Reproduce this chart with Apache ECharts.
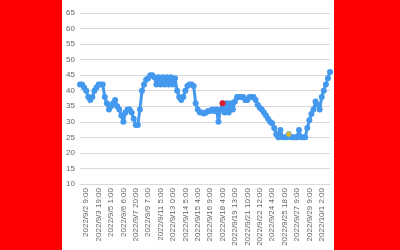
<!DOCTYPE html>
<html>
<head>
<meta charset="utf-8">
<script src="https://cdn.jsdelivr.net/npm/echarts@6/dist/echarts.min.js"></script>
<style>
html,body{margin:0;padding:0;width:400px;height:250px;background:#ff0000;overflow:hidden;}
#panel{position:absolute;left:62px;top:0;width:272px;height:250px;background:#ffffff;}
#chart{position:absolute;left:0;top:0;width:400px;height:250px;}
</style>
</head>
<body>
<div id="panel"></div>
<div id="chart"></div>
<script>
// x-axis tick labels (one every 6 points, starting at point 3)
const tickLabels = [
  '2022/9/2 9:00','2022/9/3 19:00','2022/9/5 1:00','2022/9/6 6:00','2022/9/7 20:00',
  '2022/9/9 7:00','2022/9/11 5:00','2022/9/13 0:00','2022/9/14 5:00','2022/9/15 4:00',
  '2022/9/16 9:00','2022/9/18 4:00','2022/9/19 13:00','2022/9/21 10:00','2022/9/22 12:00',
  '2022/9/24 4:00','2022/9/25 18:00','2022/9/27 9:00','2022/9/29 9:00','2022/10/1 2:00'
];
const labelStart = 3;
const labelStep = 6;

// series values
const levels = [
  42,42,41,40,38,37,38,40,41,42,
  42,42,38,36,34,35,36,37,35,34,
  32,30,33,34,34,33,31,29,29,34,
  40,42,43.5,44,45,45,44.3,42,44.3,42,
  44.3,42,44.3,42,44.3,42,44,40,38,37,
  38,40,41.5,42,42,41.5,36,34,33,33,
  32.7,33,33.5,33.5,34,33.5,34,30,34,36,
  33,36,33,36,34,36.5,38,38,38,38,
  37,37,38,38,38,37,35.5,34.5,34,33,
  32,31,30,29.5,28,26,25,27.4,25,25,
  25,26,25,25,25,25,27.4,25,25,25,
  28,30.5,32.5,34,36.5,35.5,34,38,40,42,
  44,46
];

// highlighted points: [point index, value]
const redPoint = [69, 36];
const yellowPoint = [101, 26];

// y-axis range
const yMin = 10, yMax = 65, yStep = 5;

const categories = levels.map((v, i) => {
  const k = (i - labelStart) / labelStep;
  return (Number.isInteger(k) && k >= 0 && k < tickLabels.length) ? tickLabels[k] : '';
});

const chart = echarts.init(document.getElementById('chart'), null, {renderer: 'canvas'});
chart.setOption({
  animation: false,
  backgroundColor: 'transparent',
  grid: {left: 80, right: 70, top: 13, bottom: 66, containLabel: false},
  xAxis: {
    type: 'category',
    data: categories,
    boundaryGap: false,
    axisLine: {show: true, lineStyle: {color: '#d9d9d9', width: 1}},
    axisTick: {show: false},
    axisLabel: {
      interval: 0,
      rotate: 90,
      margin: 4,
      fontSize: 8,
      color: '#666666',
      fontFamily: 'Liberation Sans, Arial, sans-serif'
    },
    splitLine: {show: false}
  },
  yAxis: {
    type: 'value',
    min: yMin, max: yMax, interval: yStep,
    axisLine: {show: false},
    axisTick: {show: false},
    axisLabel: {
      margin: 5,
      fontSize: 8,
      color: '#666666',
      fontFamily: 'Liberation Sans, Arial, sans-serif'
    },
    splitLine: {show: true, lineStyle: {color: '#d9d9d9', width: 1}}
  },
  series: [
    {
      type: 'line',
      data: levels,
      showAllSymbol: true,
      symbol: 'circle',
      symbolSize: 6,
      lineStyle: {color: '#4499ee', width: 3},
      itemStyle: {color: '#4499ee'},
      z: 2
    },
    {
      type: 'scatter',
      data: [redPoint],
      symbol: 'circle',
      symbolSize: 6,
      itemStyle: {color: '#ff0000'},
      z: 5
    },
    {
      type: 'scatter',
      data: [yellowPoint],
      symbol: 'circle',
      symbolSize: 5,
      itemStyle: {color: '#ffc000'},
      z: 5
    }
  ]
});
</script>
</body>
</html>
